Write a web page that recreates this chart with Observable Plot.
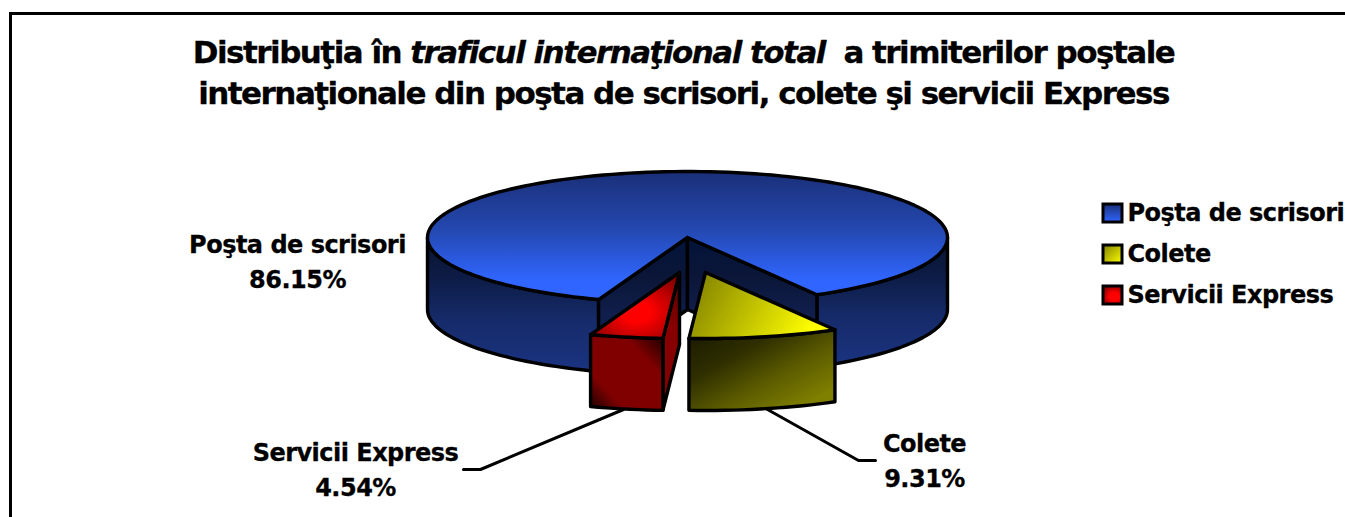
<!DOCTYPE html>
<html><head><meta charset="utf-8">
<script src="https://cdn.jsdelivr.net/npm/d3@7"></script>
<script src="https://cdn.jsdelivr.net/npm/@observablehq/plot@0.6"></script>
<style>
html,body{margin:0;padding:0;background:#fff;overflow:hidden;width:1345px;height:517px}
#frame{position:absolute;left:9px;top:12px;width:1340px;height:520px;border:3px solid #000;box-sizing:border-box}
#title{position:absolute;left:0;top:32px;width:1367px;text-align:center;font:bold 31px/41px "DejaVu Sans",sans-serif;letter-spacing:-1.53px;color:#000;-webkit-text-stroke:.3px #000}
#chart{position:absolute;left:0;top:0}
#chart text{letter-spacing:-.52px}
</style></head><body>
<div id="chart"></div>
<div id="frame"></div>
<div id="title">Distribuţia în <i>traficul internaţional total</i> &nbsp;a trimiterilor poştale<br>internaţionale din poşta de scrisori, colete şi servicii Express</div>
<script>
const categories = ["Poşta de scrisori", "Colete", "Servicii Express"];
const shares = [86.15, 9.31, 4.54];
const firstSliceDeg = 200;

// layout of the drawing (in page pixels)
const W = 1345, H = 517;
const C = {x: 687, y: 237, rx: 260, ry: 66, depth: 72};
const explode = [[0, 0], [18, 35], [-8, 35]];
const labelAt = [[297, 259], [924, 458], [355, 467]];
const leaders = [null, [[767, 409], [858, 460], [875, 460]], [[623, 409], [480, 469], [463, 469]]];
const legendY = [213, 254, 295];

const total = d3.sum(shares);
let acc = firstSliceDeg;
const spans = shares.map(s => { const a0 = acc; acc += s / total * 360; return [a0, acc]; });

const rim = (deg, dx = 0, dy = 0) => {
  const r = deg * Math.PI / 180;
  return {x: C.x + dx + C.rx * Math.sin(r), y: C.y + dy - C.ry * Math.cos(r)};
};
const arc = (a0, a1, dx = 0, dy = 0) => {
  const n = Math.max(2, Math.ceil(Math.abs(a1 - a0) / 2));
  return d3.range(n + 1).map(i => rim(a0 + (a1 - a0) * i / n, dx, dy));
};
const closed = pts => [...pts, pts[0]];
const wall = (a0, a1, dx = 0, dy = 0) =>
  closed([...arc(a0, a1, dx, dy), ...arc(a1, a0, dx, dy + C.depth)]);
const face = (a0, a1, dx = 0, dy = 0) =>
  closed([{x: C.x + dx, y: C.y + dy}, ...arc(a0, a1, dx, dy)]);
const cut = (deg, dx = 0, dy = 0) => {
  const c = {x: C.x + dx, y: C.y + dy}, r = rim(deg, dx, dy);
  return closed([c, r, {x: r.x, y: r.y + C.depth}, {x: c.x, y: c.y + C.depth}]);
};

const poly = (pts, fill) => Plot.line(pts, {
  x: "x", y: "y", fill, stroke: "#000", strokeWidth: 3.4, strokeLinejoin: "round", curve: "linear"
});

const defs = () => {
  const d = d3.create("svg:defs");
  d.html(`
  <linearGradient id="blueTop" x1="0" y1="0" x2="0" y2="1">
    <stop offset="0" stop-color="#1a2f78"/><stop offset=".45" stop-color="#2448b0"/>
    <stop offset=".85" stop-color="#3066ff"/><stop offset="1" stop-color="#3066ff"/></linearGradient>
  <linearGradient id="blueWall" x1="0" y1="0" x2="0" y2="1">
    <stop offset="0" stop-color="#081430"/><stop offset=".3" stop-color="#0d1c46"/>
    <stop offset=".6" stop-color="#152a68"/><stop offset="1" stop-color="#1b3482"/></linearGradient>
  <linearGradient id="blueCut" x1="0" y1="0" x2="0" y2="1">
    <stop offset="0" stop-color="#02143a"/><stop offset=".3" stop-color="#0b1638"/>
    <stop offset="1" stop-color="#152a68"/></linearGradient>
  <linearGradient id="yelTop" x1="0" y1="0" x2="1" y2=".25">
    <stop offset="0" stop-color="#7a7a00"/><stop offset="1" stop-color="#ffff00"/></linearGradient>
  <linearGradient id="yelWall" x1=".05" y1=".1" x2=".85" y2=".9">
    <stop offset="0" stop-color="#1e1e00"/><stop offset=".3" stop-color="#2e2e00"/>
    <stop offset=".65" stop-color="#5c5c00"/><stop offset="1" stop-color="#808000"/></linearGradient>
  <radialGradient id="redTop" cx=".52" cy=".6" r=".62">
    <stop offset=".25" stop-color="#ff0000"/><stop offset="1" stop-color="#8a0000"/></radialGradient>
  <linearGradient id="redWall" x1="0" y1="1" x2="1" y2="0">
    <stop offset="0" stop-color="#180000"/><stop offset=".25" stop-color="#800000"/>
    <stop offset=".72" stop-color="#800000"/><stop offset="1" stop-color="#180000"/></linearGradient>
  <linearGradient id="redCut" x1="0" y1="0" x2="0" y2="1">
    <stop offset="0" stop-color="#500000"/><stop offset=".4" stop-color="#880000"/>
    <stop offset="1" stop-color="#800000"/></linearGradient>
  <linearGradient id="swBlue" x1="0" y1="0" x2="0" y2="1"><stop offset="0" stop-color="#1a2f78"/><stop offset="1" stop-color="#3066ff"/></linearGradient>
  <linearGradient id="swYel" x1="0" y1="0" x2="1" y2="1"><stop offset="0" stop-color="#808000"/><stop offset="1" stop-color="#ffff00"/></linearGradient>
  <radialGradient id="swRed" cx=".6" cy=".6" r=".7"><stop offset=".35" stop-color="#ff0000"/><stop offset="1" stop-color="#800000"/></radialGradient>`);
  return d.node();
};

const [sA, sB, sC] = spans;
const textStyle = {fontFamily: "'DejaVu Sans',sans-serif", fontWeight: "bold", fontSize: 24, fill: "#000", stroke: "#000", strokeWidth: 0.3};
const rows = categories.map((name, i) => ({name, y: legendY[i], fill: ["url(#swBlue)", "url(#swYel)", "url(#swRed)"][i]}));
const labels = categories.map((name, i) => ({
  text: `${name}\n${shares[i].toFixed(2)}%`, x: labelAt[i][0], y: labelAt[i][1]
}));

const plot = Plot.plot({
  width: W, height: H, margin: 0,
  x: {domain: [0, W], range: [0, W], axis: null},
  y: {domain: [0, H], range: [0, H], axis: null},
  style: {background: "transparent", overflow: "visible"},
  marks: [
    defs,
    // main slice
    poly(wall(90, sA[1] % 360), "url(#blueWall)"),
    poly(wall(sA[0], 270), "url(#blueWall)"),
    poly(cut(sA[0]), "url(#blueCut)"),
    poly(cut(sB[0]), "url(#blueCut)"),
    poly(face(sA[0], sA[1]), "url(#blueTop)"),
    // leaders
    ...leaders.filter(Boolean).map(l => Plot.line(l.map(([x, y]) => ({x, y})), {x: "x", y: "y", stroke: "#000", strokeWidth: 3})),
    // Colete
    poly(wall(sB[0], sB[1], ...explode[1]), "url(#yelWall)"),
    poly(face(sB[0], sB[1], ...explode[1]), "url(#yelTop)"),
    // Servicii Express
    poly(cut(sC[0], ...explode[2]), "url(#redCut)"),
    poly(wall(sC[0], sC[1], ...explode[2]), "url(#redWall)"),
    poly(face(sC[0], sC[1], ...explode[2]), "url(#redTop)"),
    // labels
    Plot.text(labels, {x: "x", y: "y", text: "text", lineHeight: 1.46, ...textStyle}),
    // legend
    Plot.rect(rows, {x1: () => 1103, x2: () => 1122, y1: d => d.y - 9, y2: d => d.y + 9, fill: "fill", stroke: "#000", strokeWidth: 3}),
    Plot.text(rows, {x: () => 1127, y: "y", text: "name", textAnchor: "start", ...textStyle})
  ]
});
document.getElementById("chart").append(plot);
</script>
</body></html>
